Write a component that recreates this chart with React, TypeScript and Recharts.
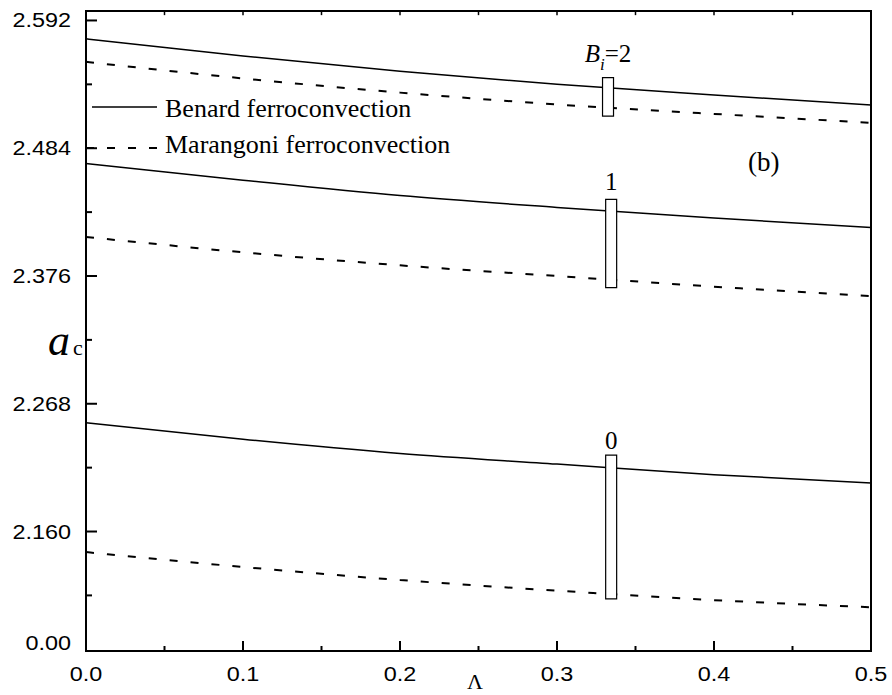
import React from "react";
import {
  LineChart,
  Line,
  XAxis,
  YAxis,
  ReferenceArea,
  ReferenceLine,
  Customized,
} from "recharts";

// critical wave number a_c against Λ, for Biot numbers 0, 1, 2
const LAMBDA = [0, 0.1, 0.2, 0.3, 0.4, 0.5];
const BENARD_BI2 = [2.5765, 2.562, 2.549, 2.538, 2.529, 2.5205];
const MARANGONI_BI2 = [2.557, 2.543, 2.531, 2.521, 2.513, 2.5055];
const BENARD_BI1 = [2.471, 2.457, 2.444, 2.434, 2.425, 2.417];
const MARANGONI_BI1 = [2.409, 2.396, 2.385, 2.376, 2.367, 2.359];
const BENARD_BI0 = [2.252, 2.238, 2.226, 2.217, 2.208, 2.201];
const MARANGONI_BI0 = [2.1426, 2.13, 2.119, 2.11, 2.102, 2.096];

// gap markers between the two curves of each Biot number
const BOX_LAMBDA = [0.331, 0.338];
const BOX_BI2 = [2.5112, 2.5437];
const BOX_BI1 = [2.3662, 2.4408];
const BOX_BI0 = [2.103, 2.2245];

const Y_MAJOR = [2.592, 2.484, 2.376, 2.268, 2.16];
const Y_MINOR = [2.538, 2.43, 2.322, 2.214, 2.106];
const Y_BOTTOM = 2.059;
const Y_TOP = 2.6;
const X_MAJOR = [0, 0.1, 0.2, 0.3, 0.4, 0.5];
const X_MINOR = [0.05, 0.15, 0.25, 0.35, 0.45];
// short ticks hanging from the top frame
const TOP_TICKS = [0.05, 0.1, 0.15, 0.2, 0.25, 0.3, 0.35, 0.4, 0.45];
const TOP_TICK_LEN = 0.0035;

const data = LAMBDA.map((l, i) => ({
  lambda: l,
  b2: BENARD_BI2[i],
  m2: MARANGONI_BI2[i],
  b1: BENARD_BI1[i],
  m1: MARANGONI_BI1[i],
  b0: BENARD_BI0[i],
  m0: MARANGONI_BI0[i],
}));

const SANS = "'Liberation Sans', Arial, sans-serif";
const SERIF = "'Liberation Serif', 'Times New Roman', serif";

const XTick = (props: any) => {
  const { x, y, payload } = props;
  const major = X_MAJOR.includes(payload.value);
  return (
    <g>
      <line x1={x} x2={x} y1={y} y2={y - (major ? 10 : 5)} stroke="#000" strokeWidth={2} />
      {major && (
        <text
          transform={`translate(${x},${y + 30}) scale(1.2,1)`}
          textAnchor="middle"
          fontFamily={SANS}
          fontSize={19.5}
          fill="#000"
        >
          {payload.value.toFixed(1)}
        </text>
      )}
    </g>
  );
};

const YTick = (props: any) => {
  const { x, y, payload } = props;
  const v = payload.value;
  const major = Y_MAJOR.includes(v);
  if (v === Y_BOTTOM) {
    return (
      <text
        transform={`translate(${x - 15},${y - 1}) scale(1.2,1)`}
        textAnchor="end"
        fontFamily={SANS}
        fontSize={19.5}
        fill="#000"
      >
        0.00
      </text>
    );
  }
  return (
    <g>
      <line x1={x} x2={x + (major ? 11 : 6)} y1={y} y2={y} stroke="#000" strokeWidth={2} />
      {major && (
        <text
          transform={`translate(${x - 15},${y + 7}) scale(1.2,1)`}
          textAnchor="end"
          fontFamily={SANS}
          fontSize={19.5}
          fill="#000"
        >
          {v.toFixed(3)}
        </text>
      )}
    </g>
  );
};

const boxLabel = (text: React.ReactNode, gap: number) => (props: any) => {
  const vb = props.viewBox;
  return (
    <text
      x={vb.x + vb.width / 2}
      y={vb.y - gap}
      textAnchor="middle"
      fontFamily={SERIF}
      fontSize={25}
      fill="#000"
    >
      {text}
    </text>
  );
};

const Annotations = () => (
  <g fontFamily={SERIF} fill="#000">
    {/* top edge of the frame */}
    <line x1={85} x2={872} y1={11} y2={11} stroke="#000" strokeWidth={2} />
    <line x1={92} x2={157} y1={107} y2={107} stroke="#000" strokeWidth={1.5} />
    <text x={165} y={117} fontSize={26}>Benard ferroconvection</text>
    <line x1={86} x2={157} y1={148} y2={148} stroke="#000" strokeWidth={2} strokeDasharray="8 13" />
    <text x={165} y={153} fontSize={26}>Marangoni ferroconvection</text>
    <text x={748} y={171} fontSize={27}>(b)</text>
    <text x={48} y={355} fontSize={44} fontStyle="italic">a</text>
    <text x={73} y={355} fontSize={22}>c</text>
    <text x={475} y={689} fontSize={22} textAnchor="middle">Λ</text>
  </g>
);

export default function App() {
  return (
    <div style={{ position: "absolute", left: 0, top: 0, background: "#fff" }}>
      <LineChart
        width={892}
        height={695}
        data={data}
        margin={{ top: 11, right: 21, bottom: 0, left: 0 }}
      >
        <XAxis
          dataKey="lambda"
          type="number"
          domain={[0, 0.5]}
          ticks={[...X_MAJOR, ...X_MINOR]}
          interval={0}
          tickSize={0}
          tickMargin={0}
          tick={<XTick />}
          axisLine={{ stroke: "#000", strokeWidth: 2 }}
          height={44}
        />
        <YAxis
          type="number"
          domain={[Y_BOTTOM, Y_TOP]}
          ticks={[Y_BOTTOM, ...Y_MAJOR, ...Y_MINOR]}
          interval={0}
          allowDataOverflow
          tickSize={0}
          tickMargin={0}
          tick={<YTick />}
          axisLine={{ stroke: "#000", strokeWidth: 2 }}
          width={86}
        />
        {/* plot frame */}
        <ReferenceArea
          x1={0}
          x2={0.5}
          y1={Y_BOTTOM}
          y2={Y_TOP}
          fill="none"
          stroke="#000"
          strokeWidth={2}
          ifOverflow="visible"
        />
        {TOP_TICKS.map((t) => (
          <ReferenceLine
            key={t}
            segment={[
              { x: t, y: Y_TOP },
              { x: t, y: Y_TOP - TOP_TICK_LEN },
            ]}
            stroke="#000"
            strokeWidth={1.5}
            ifOverflow="visible"
          />
        ))}
        <Line dataKey="b2" type="monotone" stroke="#000" strokeWidth={1.5} dot={false} isAnimationActive={false} />
        <Line dataKey="m2" type="monotone" stroke="#000" strokeWidth={2} strokeDasharray="8 13" dot={false} isAnimationActive={false} />
        <Line dataKey="b1" type="monotone" stroke="#000" strokeWidth={1.5} dot={false} isAnimationActive={false} />
        <Line dataKey="m1" type="monotone" stroke="#000" strokeWidth={2} strokeDasharray="8 13" dot={false} isAnimationActive={false} />
        <Line dataKey="b0" type="monotone" stroke="#000" strokeWidth={1.5} dot={false} isAnimationActive={false} />
        <Line dataKey="m0" type="monotone" stroke="#000" strokeWidth={2} strokeDasharray="8 13" dot={false} isAnimationActive={false} />
        <ReferenceArea
          x1={BOX_LAMBDA[0] - 0.002}
          x2={BOX_LAMBDA[1] - 0.002}
          y1={BOX_BI2[0]}
          y2={BOX_BI2[1]}
          fill="#fff"
          fillOpacity={1}
          stroke="#000"
          strokeWidth={1.2}
          zIndex={1000}
          label={boxLabel(
            <>
              <tspan fontStyle="italic">B</tspan>
              <tspan fontStyle="italic" fontSize={17} dy={8}>i</tspan>
              <tspan dy={-8}>=2</tspan>
            </>,
            16
          )}
        />
        <ReferenceArea
          x1={BOX_LAMBDA[0]}
          x2={BOX_LAMBDA[1]}
          y1={BOX_BI1[0]}
          y2={BOX_BI1[1]}
          fill="#fff"
          fillOpacity={1}
          stroke="#000"
          strokeWidth={1.2}
          zIndex={1000}
          label={boxLabel("1", 9)}
        />
        <ReferenceArea
          x1={BOX_LAMBDA[0]}
          x2={BOX_LAMBDA[1]}
          y1={BOX_BI0[0]}
          y2={BOX_BI0[1]}
          fill="#fff"
          fillOpacity={1}
          stroke="#000"
          strokeWidth={1.2}
          zIndex={1000}
          label={boxLabel("0", 6)}
        />
        <Customized component={<Annotations />} />
      </LineChart>
    </div>
  );
}
